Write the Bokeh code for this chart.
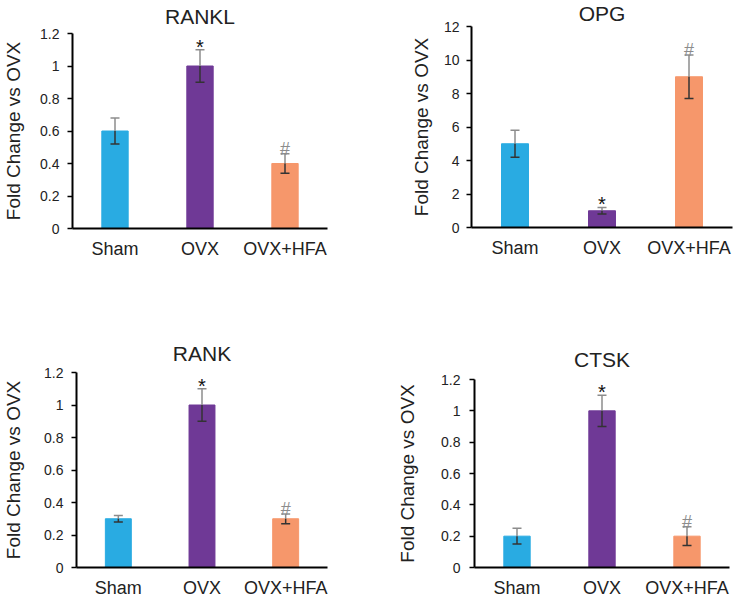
from bokeh.plotting import figure
from bokeh.layouts import column, row
from bokeh.models import (FactorRange, Range1d, Whisker, TeeHead, FixedTicker,
                          ColumnDataSource)
from bokeh.core.properties import value
from bokeh.embed import file_html
from bokeh.resources import INLINE

# ---------------- data ----------------
groups = ["Sham", "OVX", "OVX+HFA"]
bar_colors = ["#29ABE2", "#6F3996", "#F6976B"]

rankl_mean = [0.6, 1.0, 0.4]
rankl_err = [0.08, 0.10, 0.06]
opg_mean = [5.0, 1.0, 9.0]
opg_err = [0.8, 0.2, 1.3]
rank_mean = [0.3, 1.0, 0.3]
rank_err = [0.02, 0.10, 0.03]
ctsk_mean = [0.2, 1.0, 0.2]
ctsk_err = [0.05, 0.10, 0.06]

star_marks = ["", "*", ""]
hash_marks = ["", "", "#"]

ticks_fold = [0, 0.2, 0.4, 0.6, 0.8, 1.0, 1.2]
labels_fold = ["0", "0.2", "0.4", "0.6", "0.8", "1", "1.2"]
ticks_opg = [0, 2, 4, 6, 8, 10, 12]
labels_opg = ["0", "2", "4", "6", "8", "10", "12"]

y_label = "Fold Change vs OVX"

FONT = "Liberation Sans"
TXT = "#222222"
ERR_UP = "#8c8c8c"
ERR_LO = "#333333"


def make_panel(title, means, errs, ticks, tick_labels, ymax, w, h,
               left, right, top, bottom, title_standoff, ylab_standoff, tick_standoff):
    p = figure(x_range=FactorRange(factors=groups), y_range=Range1d(0, ymax),
               width=w, height=h, output_backend="svg", toolbar_location=None, tools="",
               min_border_left=left, min_border_right=right,
               min_border_top=top, min_border_bottom=bottom)
    p.frame_align = False
    p.title.text = title
    p.title.align = "center"
    p.title.vertical_align = "top"
    p.title.text_font = FONT
    p.title.text_font_size = "21px"
    p.title.text_font_style = "normal"
    p.title.text_color = TXT
    p.title.standoff = title_standoff

    src = ColumnDataSource(dict(
        g=groups, m=means, color=bar_colors,
        up=[m + e for m, e in zip(means, errs)],
        lo=[m - e for m, e in zip(means, errs)],
        star=star_marks, hsh=hash_marks,
    ))
    p.vbar(x="g", top="m", width=0.31, color="color", source=src)

    up_w = Whisker(source=src, base="g", upper="up", lower="m", dimension="height",
                   line_color=ERR_UP, line_width=1.5, level="overlay",
                   upper_head=TeeHead(size=9, line_color=ERR_UP, line_width=1.5),
                   lower_head=None)
    lo_w = Whisker(source=src, base="g", upper="m", lower="lo", dimension="height",
                   line_color=ERR_LO, line_width=1.5, level="overlay",
                   lower_head=TeeHead(size=9, line_color=ERR_LO, line_width=1.5),
                   upper_head=None)
    p.add_layout(up_w)
    p.add_layout(lo_w)

    p.text(x="g", y="up", text="star", source=src, text_font=value(FONT),
           text_font_size="20px", text_align="center", text_baseline="alphabetic",
           y_offset=-3, text_color="#111111")
    p.text(x="g", y="up", text="hsh", source=src, text_font=value(FONT),
           text_font_size="18px", text_align="center", text_baseline="alphabetic",
           y_offset=-5, text_color=ERR_UP)

    p.xgrid.visible = False
    p.ygrid.visible = False
    p.outline_line_color = None

    p.yaxis.ticker = FixedTicker(ticks=ticks)
    p.yaxis.major_label_overrides = {t: l for t, l in zip(ticks, tick_labels)}
    p.yaxis.axis_label = y_label
    p.yaxis.axis_label_text_font = FONT
    p.yaxis.axis_label_text_font_size = "19px"
    p.yaxis.axis_label_text_font_style = "normal"
    p.yaxis.axis_label_text_color = TXT
    p.yaxis.axis_label_standoff = ylab_standoff
    p.yaxis.major_label_text_font = FONT
    p.yaxis.major_label_text_font_size = "14px"
    p.yaxis.major_label_text_color = TXT
    p.yaxis.major_label_standoff = tick_standoff
    p.yaxis.major_tick_out = 5
    p.yaxis.major_tick_in = 0
    p.yaxis.minor_tick_out = 0
    p.yaxis.minor_tick_in = 0
    p.yaxis.major_tick_line_width = 1.5
    p.yaxis.major_tick_line_color = "black"

    p.xaxis.major_label_text_font = FONT
    p.xaxis.major_label_text_font_size = "18px"
    p.xaxis.major_label_text_line_height = 1.0
    p.xaxis.major_label_text_color = TXT
    p.xaxis.major_label_standoff = 10
    p.xaxis.major_tick_out = 0
    p.xaxis.major_tick_in = 0
    p.xaxis.minor_tick_out = 0

    for ax in (p.xaxis, p.yaxis):
        ax.axis_line_width = 2
        ax.axis_line_color = "black"
    return p


p1 = make_panel("RANKL", rankl_mean, rankl_err, ticks_fold, labels_fold, 1.2,
                371, 300, 70, 44, 33, 72, 7, 13, 8)
p2 = make_panel("OPG", opg_mean, opg_err, ticks_opg, labels_opg, 12,
                371, 300, 100, 10, 26, 73, 0, 9, 7)
p3 = make_panel("RANK", rank_mean, rank_err, ticks_fold, labels_fold, 1.2,
                371, 300, 70, 44, 72, 33, 12, 17, 8)
p4 = make_panel("CTSK", ctsk_mean, ctsk_err, ticks_fold, labels_fold, 1.2,
                371, 300, 103, 13, 79, 27, 14, 20, 9)

layout = column(row(p1, p2), row(p3, p4))

open("out.html", "w").write(file_html(layout, INLINE))
